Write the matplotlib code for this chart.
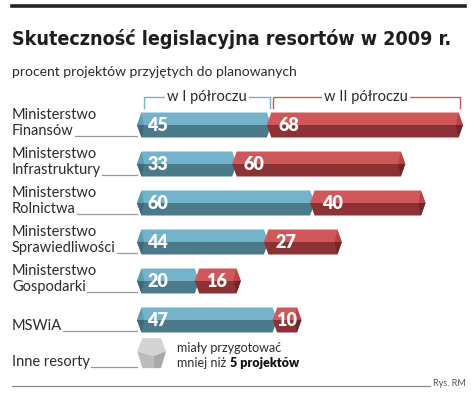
import matplotlib
matplotlib.use("Agg")

import matplotlib.pyplot as plt
import matplotlib.transforms as mtransforms
from matplotlib.patches import Polygon

# =========================
# データ
# =========================
ministries = [
    "Ministerstwo\nFinansów",
    "Ministerstwo\nInfrastruktury",
    "Ministerstwo\nRolnictwa",
    "Ministerstwo\nSprawiedliwości",
    "Ministerstwo\nGospodarki",
    "MSWiA",
]
first_half = [45, 33, 60, 44, 20, 47]
second_half = [68, 60, 40, 27, 16, 10]
other_label = "Inne resorty"

title = "Skuteczność legislacyjna resortów w 2009 r."
subtitle = "procent projektów przyjętych do planowanych"
half_labels = ["w I półroczu", "w II półroczu"]
note_lines = ["miały przygotować", "mniej niż ", "5 projektów"]
source = "Rys. RM"

# =========================
# 色
# =========================
BLUE_TOP, BLUE_BOT = "#74b3ca", "#4b7a8b"
BLUE_CAP_T, BLUE_CAP_B = "#5f9db4", "#3f6878"
RED_TOP, RED_BOT = "#d0585a", "#8c3134"
RED_CAP_T, RED_CAP_B = "#b84447", "#732629"
TEXT = "#2b2b2b"
LINE = "#9a9a9a"

W, H = 471, 396
X0_PX, UNIT_PX = 137, 2.885   # x=0 の位置と 1% あたりのピクセル
Y0_PX, ROW_PX = 125, 39       # 1行目の中心と行間

fig = plt.figure(figsize=(W / 100, H / 100), dpi=100)
ax = fig.add_axes([0, 0, 1, 1])
ax.set_xlim(-X0_PX / UNIT_PX, (W - X0_PX) / UNIT_PX)
ax.set_ylim((H - Y0_PX) / ROW_PX, -Y0_PX / ROW_PX)
ax.axis("off")

# ピクセル座標 (左上原点) 用の変換
px = mtransforms.Affine2D().scale(1 / W, -1 / H).translate(0, 1) + fig.transFigure

font = ["Lato", "DejaVu Sans"]
h = 12.5 / ROW_PX       # 棒の半分の高さ
dx = 4.5 / UNIT_PX      # 矢じり部分の深さ
label_x = -X0_PX / UNIT_PX + 12 / UNIT_PX
line_gap = 16 / ROW_PX  # ラベル2行の行間


def segment(xa, xb, y, top, bot, cap_t=None, cap_b=None):
    ax.add_patch(Polygon([(xa, y), (xa + dx, y - h), (xb - dx, y - h), (xb, y)],
                         closed=True, fc=top, ec="none"))
    ax.add_patch(Polygon([(xa, y), (xb, y), (xb - dx, y + h), (xa + dx, y + h)],
                         closed=True, fc=bot, ec="none"))
    if cap_t:
        ax.add_patch(Polygon([(xb - dx, y - h), (xb, y), (xb - dx * 1.6, y)],
                             closed=True, fc=cap_t, ec="none"))
        ax.add_patch(Polygon([(xb - dx * 1.6, y), (xb, y), (xb - dx, y + h)],
                             closed=True, fc=cap_b, ec="none"))


# =========================
# タイトル類
# =========================
fig.add_artist(plt.Line2D([12 / W, 465 / W], [1 - 6 / H, 1 - 6 / H],
                          color="#222222", lw=2.6))
t_title = fig.text(12, 45, title, transform=px, fontsize=18, fontweight="heavy",
                   family=["DejaVu Sans"], fontstretch="condensed",
                   color="#1e1e1e", va="baseline", ha="left")
fig.text(12, 72, subtitle, transform=px, fontsize=10, family=font,
         color=TEXT, va="center", ha="left")

# =========================
# 棒
# =========================
label_texts = []
for i, (name, a, b) in enumerate(zip(ministries, first_half, second_half)):
    y = i
    segment(0, a + dx, y, BLUE_TOP, BLUE_BOT)
    ax.add_patch(Polygon([(0, y), (dx, y - h), (dx * 1.6, y)], closed=True,
                         fc=BLUE_CAP_T, ec="none"))
    ax.add_patch(Polygon([(0, y), (dx * 1.6, y), (dx, y + h)], closed=True,
                         fc=BLUE_CAP_B, ec="none"))
    segment(a, a + b, y, RED_TOP, RED_BOT, RED_CAP_T, RED_CAP_B)

    ax.text(3.6, y + 0.02, str(a), color="white", fontsize=13, fontweight="heavy",
            family=font, va="center", ha="left")
    if b < 14:
        ax.text(a + b / 2, y + 0.02, str(b), color="white", fontsize=13,
                fontweight="heavy", family=font, va="center", ha="center")
    else:
        ax.text(a + 4.0, y + 0.02, str(b), color="white", fontsize=13,
                fontweight="heavy", family=font, va="center", ha="left")

    yl = y + h - 0.04
    lines = name.split("\n")
    for k, line in enumerate(lines):
        t = ax.text(label_x, yl - 0.02 - (len(lines) - 1 - k) * line_gap, line,
                    fontsize=10.5, family=font, color=TEXT,
                    va="baseline", ha="left")
    label_texts.append((t, yl))

# その他の省庁 (灰色の立方体)
cy = 5.85
cx0, cx1 = 0.1, 29 / UNIT_PX
cd = 5 / UNIT_PX
ch = 15 / ROW_PX
cm = (cx0 + cx1) / 2 + 0.6
ax.add_patch(Polygon([(cx0, cy - 0.05), (cx0 + cd, cy - ch), (cx1 - cd, cy - ch),
                      (cx1, cy - 0.05), (cm, cy + 0.08)],
                     closed=True, fc="#d3d3d3", ec="none"))
ax.add_patch(Polygon([(cx0, cy - 0.05), (cm, cy + 0.08), (cm, cy + ch),
                      (cx0 + cd, cy + ch)], closed=True, fc="#bcbcbc", ec="none"))
ax.add_patch(Polygon([(cm, cy + 0.08), (cx1, cy - 0.05), (cx1 - cd, cy + ch),
                      (cm, cy + ch)], closed=True, fc="#a9a9a9", ec="none"))
yl = cy + ch - 0.04
t = ax.text(label_x, yl - 0.02, other_label, fontsize=10.5,
            family=font, color=TEXT, va="baseline", ha="left")
label_texts.append((t, yl))

fig.text(177, 348, note_lines[0], transform=px, fontsize=9, family=font,
         color=TEXT, va="center", ha="left")
t_reg = fig.text(177, 363, note_lines[1], transform=px, fontsize=9, family=font,
                 color=TEXT, va="center", ha="left")

# =========================
# 半期ブラケット
# =========================
by_top = (97 - Y0_PX) / ROW_PX
by_bot = (108 - Y0_PX) / ROW_PX
brackets = [(2.4, first_half[0] + 1, BLUE_TOP),
            (first_half[0] + 2, first_half[0] + second_half[0] - 1.2, RED_TOP)]
for (xa, xb, col), lab in zip(brackets, half_labels):
    tt = ax.text((xa + xb) / 2, by_top, lab, fontsize=10.5, family=font,
                 color=TEXT, va="center", ha="center",
                 bbox=dict(fc="white", ec="none", pad=1.5))
    ax.plot([xa, xa, xb, xb], [by_bot, by_top, by_top, by_bot], color=col,
            lw=1.0, zorder=1)
    tt.set_zorder(2)

# =========================
# タイトル幅を合わせる / 引き出し線
# =========================
fig.canvas.draw()
renderer = fig.canvas.get_renderer()
bb = t_title.get_window_extent(renderer)
t_title.set_fontsize(18 * 441 / bb.width)

fig.canvas.draw()
inv = ax.transData.inverted()
for t, yl in label_texts:
    bb = t.get_window_extent(renderer)
    xs = inv.transform((bb.x1 + 1, 0))[0]
    ax.plot([xs, 0], [yl, yl], color=LINE, lw=0.9)

bb = t_reg.get_window_extent(renderer)
fig.text(bb.x1 / fig.dpi / fig.get_figwidth(), 1 - 363 / H, note_lines[2],
         fontsize=9, fontweight="heavy", family=font, color="#111111",
         va="center", ha="left")

# =========================
# 出典
# =========================
fig.add_artist(plt.Line2D([12 / W, 430 / W], [1 - 386 / H, 1 - 386 / H],
                          color="#888888", lw=0.9))
fig.text(466, 383, source, transform=px, fontsize=6.5, family=font,
         color="#555555", va="center", ha="right")

fig.savefig("out.png", dpi=100)
